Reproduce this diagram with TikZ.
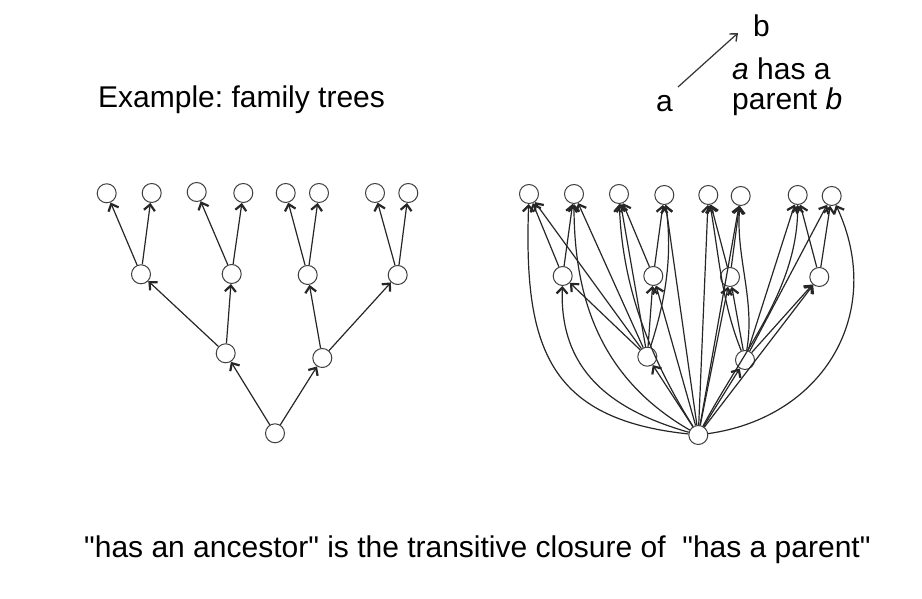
\documentclass[tikz,border=0pt]{standalone}
\usepackage{fontspec}
\setmainfont{Liberation Sans}[Ligatures=TeXOff]
\usetikzlibrary{arrows.meta}
\frenchspacing
\begin{document}
\begin{tikzpicture}[x=1pt,y=1pt,
  vtx/.style={circle,draw=black!75,line width=1pt,fill=white,minimum size=19pt,inner sep=0pt},
  edge/.style={line width=1.2pt,draw=black!85,-{Straight Barb[length=6pt,width=11pt,line width=2.2pt]}},
  lbl/.style={anchor=base west,inner sep=0pt,font=\fontsize{30}{36}\selectfont}]
\useasboundingbox (0,0) rectangle (922,599);
% texts
\node[lbl] (title) at (98,491) {Example: family trees};
\node[lbl] (ta) at (656,487) {a};
\node[lbl] (tb) at (753,562) {b};
\node[lbl] (t1) at (732,519) {\textit{a} has a};
\node[lbl] (t2) at (732,489) {parent \textit{b}};
\node[lbl] (bottom) at (84,41) {"has an ancestor" is the transitive closure of \ "has a parent"};
\coordinate (ls) at (678,512);
\coordinate (le) at (738,566);
\draw[line width=1.2pt,draw=black!80,-{Straight Barb[length=6pt,width=10pt,line width=1.4pt]}] (ls) -- (le);
% left tree
\node[vtx] (l1) at (106.7,405.7) {};
\node[vtx] (l2) at (151.7,406) {};
\node[vtx] (l3) at (196.7,407) {};
\node[vtx] (l4) at (243.3,406) {};
\node[vtx] (l5) at (285.7,406) {};
\node[vtx] (l6) at (319,406) {};
\node[vtx] (l7) at (375,406) {};
\node[vtx] (l8) at (408.3,406) {};
\node[vtx] (la1) at (141,324.7) {};
\node[vtx] (la2) at (231.7,325) {};
\node[vtx] (lb1) at (307.7,324) {};
\node[vtx] (lb2) at (397.7,324) {};
\node[vtx] (la) at (225.7,245.7) {};
\node[vtx] (lb) at (322.3,241) {};
\node[vtx] (l0) at (275,165.7) {};
\foreach \a/\b in {l0/la,l0/lb,la/la1,la/la2,lb/lb1,lb/lb2,la1/l1,la1/l2,la2/l3,la2/l4,lb1/l5,lb1/l6,lb2/l7,lb2/l8}
  \draw[edge] (\a) -- (\b);
% right tree
\node[vtx] (r1) at (529,405) {};
\node[vtx] (r2) at (574,405) {};
\node[vtx] (r3) at (619,405) {};
\node[vtx] (r4) at (664.3,404) {};
\node[vtx] (r5) at (708.3,404) {};
\node[vtx] (r6) at (740.7,403) {};
\node[vtx] (r7) at (797.7,404) {};
\node[vtx] (r8) at (831.7,403) {};
\node[vtx] (ra1) at (562.7,323) {};
\node[vtx] (ra2) at (653.3,323) {};
\node[vtx] (rb1) at (730,322) {};
\node[vtx] (rb2) at (819.3,322) {};
\node[vtx] (ra) at (647.3,242.3) {};
\node[vtx] (rb) at (745,239) {};
\node[vtx] (r0) at (698.3,164) {};
% tree edges and straight closure edges
\foreach \a/\b in {r0/ra,r0/rb,ra/ra1,ra/ra2,rb/rb1,rb/rb2,ra1/r1,ra1/r2,ra2/r3,ra2/r4,rb1/r5,rb1/r6,rb2/r7,rb2/r8,
  r0/ra2,r0/rb1,r0/rb2,r0/r4,r0/r5,r0/r6,ra/r1,ra/r2,ra/r3,rb/r7,rb/r8}
  \draw[edge] (\a) -- (\b);
% curved closure edges
\draw[edge] (r0) to[out=174,in=-92,looseness=1.3] (r1);
\draw[edge] (r0) to[out=164,in=-92,looseness=1.1] (ra1);
\draw[edge] (r0) to[out=150,in=-90,looseness=1.0] (r2);
\draw[edge] (r0) to[out=122,in=-88,looseness=0.9] (r3);
\draw[edge] (r0) to[out=62,in=-90,looseness=0.9] (r7);
\draw[edge] (r0) to[out=8,in=-65,looseness=1.15] (r8);
\draw[edge] (ra) to[out=72,in=-82,looseness=0.9] (r4);
\draw[edge] (rb) to[out=112,in=-80,looseness=0.9] (r5);
\draw[edge] (rb) to[out=80,in=-95,looseness=0.9] (r6);
\end{tikzpicture}
\end{document}
